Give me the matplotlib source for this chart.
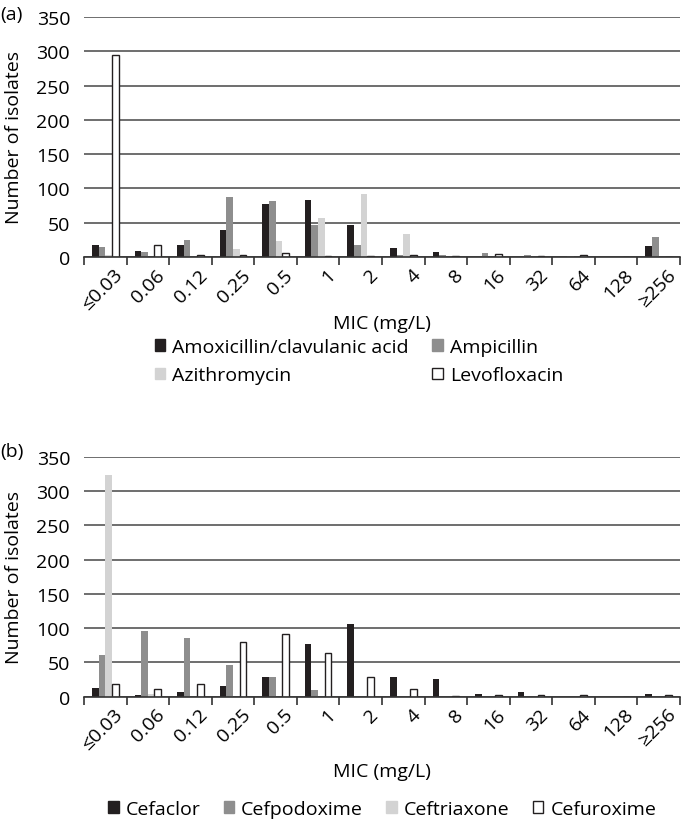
import matplotlib
matplotlib.use("Agg")
import matplotlib.pyplot as plt
import matplotlib.transforms as mtransforms
import numpy as np
from matplotlib.patches import Patch

plt.rcParams["font.family"] = ["Open Sans", "DejaVu Sans"]
plt.rcParams["font.size"] = 14

mic_labels = ["≤0.03", "0.06", "0.12", "0.25", "0.5", "1", "2", "4", "8", "16", "32", "64", "128", "≥256"]

# panel (a)
amoxiclav = [18, 9, 18, 39, 77, 83, 46, 13, 8, 0, 0, 0, 0, 16]
ampicillin = [15, 7, 25, 87, 81, 46, 18, 3, 3, 6, 3, 1.5, 0, 29]
azithromycin = [3, 0, 0, 11, 24, 57, 92, 33, 0, 0, 0, 0, 0, 0]
levofloxacin = [294, 18, 3, 3, 6, 2, 2, 3, 2, 4, 2, 3, 0, 0]

# panel (b)
cefaclor = [13, 2.5, 7, 16, 29, 76, 106, 29, 25, 4, 7, 0, 0, 3]
cefpodoxime = [61, 95, 86, 46, 28, 9, 0, 0, 0, 0, 0, 0, 0, 0]
ceftriaxone = [324, 3, 0, 0, 0, 0, 0, 0, 0, 0, 0, 0, 0, 0]
cefuroxime = [18, 11, 18, 80, 92, 64, 29, 11, 1, 1.5, 1.5, 1.5, 0, 1.5]

colors = ["#231f20", "#8e8e8e", "#d3d3d3", "white"]
bar_w = 0.156


def draw_panel(ax, series, names, ncol, legend_anchor, xlabel_y, fig):
    x = np.arange(len(mic_labels))
    for k, (vals, col) in enumerate(zip(series, colors)):
        offs = (k - 1.5) * bar_w
        edge = "#231f20" if col == "white" else col
        ax.bar(x + offs, vals, width=bar_w, color=col, edgecolor=edge,
               linewidth=1.0 if col == "white" else 0, zorder=3)
    ax.set_xlim(-0.5, len(mic_labels) - 0.5)
    ax.set_ylim(0, 350)
    ax.set_yticks(np.arange(0, 351, 50))
    ax.yaxis.grid(True, color="#555555", linewidth=1.2, zorder=0)
    ax.set_axisbelow(True)
    for s in ["top", "right", "left"]:
        ax.spines[s].set_visible(False)
    ax.spines["bottom"].set_color("#333333")
    ax.spines["bottom"].set_linewidth(1.2)
    ax.spines["bottom"].set_zorder(4)
    ax.tick_params(axis="y", length=0, pad=10)
    ax.set_xticks(x)
    ax.set_xticklabels(mic_labels, rotation=45, ha="right", rotation_mode="anchor")
    ax.tick_params(axis="x", which="major", length=0, pad=6)
    ax.set_xticks(np.arange(-0.5, len(mic_labels)), minor=True)
    ax.tick_params(axis="x", which="minor", length=6, width=1.2, color="#333333")
    for lab in ax.get_xticklabels():
        lab.set_transform(lab.get_transform() + mtransforms.ScaledTranslation(8 / 100, 0, fig.dpi_scale_trans))
    ax.set_ylabel("Number of isolates")
    ax.yaxis.set_label_coords(-0.102, 0.5)
    ax.set_xlabel("MIC (mg/L)")
    ax.xaxis.set_label_coords(0.5, xlabel_y)
    handles = [Patch(facecolor=c, edgecolor="#231f20" if c == "white" else c, linewidth=1.0) for c in colors]
    if ncol == 2:
        # matplotlib fills columns first; reorder so rows read left to right
        order = [0, 2, 1, 3]
        handles = [handles[i] for i in order]
        names = [names[i] for i in order]
    fig.legend(handles, names, loc="center", bbox_to_anchor=legend_anchor, ncol=ncol,
               frameon=False, handlelength=0.55, handleheight=0.55, handletextpad=0.35,
               columnspacing=1.2, labelspacing=0.55)


fig = plt.figure(figsize=(6.81, 8.28), dpi=100)
ax_a = fig.add_axes([0.1233, 0.6884, 0.8752, 0.2899])
ax_b = fig.add_axes([0.1233, 0.1576, 0.8752, 0.2893])

draw_panel(ax_a, [amoxiclav, ampicillin, azithromycin, levofloxacin],
           ["Amoxicillin/clavulanic acid", "Ampicillin", "Azithromycin", "Levofloxacin"],
           2, (0.527, 1 - 362 / 828), -0.237, fig)
draw_panel(ax_b, [cefaclor, cefpodoxime, ceftriaxone, cefuroxime],
           ["Cefaclor", "Cefpodoxime", "Ceftriaxone", "Cefuroxime"],
           4, (0.561, 1 - 810 / 828), -0.275, fig)

fig.text(0.0, 1 - 15 / 828, "(a)", ha="left", va="center")
fig.text(0.0, 1 - 452 / 828, "(b)", ha="left", va="center")

fig.savefig("out.png", dpi=100)
